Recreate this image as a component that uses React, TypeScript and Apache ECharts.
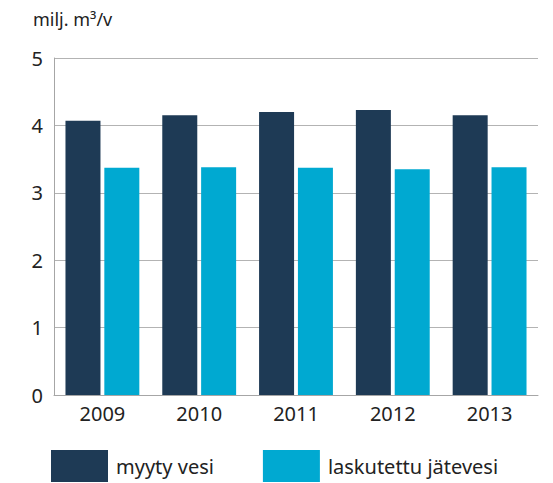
import React, { useEffect, useRef } from "react";
import * as echarts from "echarts";

const categories = ["2009", "2010", "2011", "2012", "2013"];
const myytyVesi = [4.07, 4.15, 4.2, 4.23, 4.15];
const laskutettuJatevesi = [3.37, 3.38, 3.37, 3.35, 3.38];
const seriesNames = ["myyty vesi", "laskutettu jätevesi"];

export default function App() {
  const ref = useRef<HTMLDivElement>(null);
  useEffect(() => {
    const chart = echarts.init(ref.current!, null, { renderer: "svg" });
    const font = "'Noto Sans', 'Open Sans', sans-serif";
    chart.setOption({
      animation: false,
      textStyle: { fontFamily: font },
      title: {
        text: "milj. m³/v",
        left: 33,
        top: 10,
        padding: 0,
        textStyle: { fontSize: 18, fontWeight: "normal", color: "#222", fontFamily: font },
      },
      legend: {
        left: 51,
        top: 450,
        padding: 0,
        itemWidth: 57,
        itemHeight: 32,
        itemGap: 49,
        icon: "rect",
        textStyle: { fontSize: 20, lineHeight: 22, color: "#222", fontFamily: font, padding: [0, 0, 0, 3] },
        data: seriesNames,
      },
      grid: { left: 54, right: 15, top: 58, bottom: 88, containLabel: false },
      xAxis: {
        type: "category",
        data: categories,
        axisLine: { show: true, lineStyle: { color: "#a6a6a6", width: 1 } },
        axisTick: { show: false },
        axisLabel: { fontSize: 20, color: "#222", margin: 8, fontFamily: font },
      },
      yAxis: {
        type: "value",
        min: 0,
        max: 5,
        interval: 1,
        axisLine: { show: true, lineStyle: { color: "#a6a6a6", width: 1 } },
        axisTick: { show: false },
        splitLine: { lineStyle: { color: "#b3b3b3", width: 1 } },
        axisLabel: { fontSize: 20, color: "#222", margin: 11, fontFamily: font },
      },
      series: [
        {
          name: seriesNames[0],
          type: "bar",
          data: myytyVesi,
          barWidth: 35,
          barGap: "11%",
          itemStyle: { color: "#1e3a55" },
        },
        {
          name: seriesNames[1],
          type: "bar",
          data: laskutettuJatevesi,
          barWidth: 35,
          barGap: "11%",
          itemStyle: { color: "#00a9d1" },
        },
      ],
    });
    return () => chart.dispose();
  }, []);
  return (
    <div
      ref={ref}
      style={{ position: "fixed", left: 0, top: 0, width: 553, height: 483, background: "#fff" }}
    />
  );
}
